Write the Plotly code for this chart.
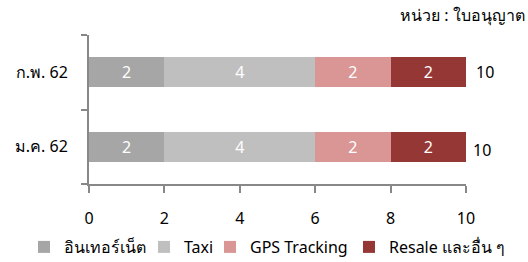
import plotly.graph_objects as go

months = ["ม.ค. 62", "ก.พ. 62"]
series_names = ["อินเทอร์เน็ต", "Taxi", "GPS Tracking", "Resale และอื่น ๆ"]
internet = [2, 2]
taxi = [4, 4]
gps = [2, 2]
resale = [2, 2]
colors = ["#A6A6A6", "#BFBFBF", "#D99694", "#953735"]
x_ticks = [0, 2, 4, 6, 8, 10]
unit_label = "หน่วย : ใบอนุญาต"

FONT = "Tahoma, 'Noto Sans', sans-serif"
W, H = 528, 262

# legend placement (left edge of each legend box, px from left)
legend_left_px = [24, 144, 210, 349]
legend_ids = ["legend", "legend2", "legend3", "legend4"]

fig = go.Figure()
for name, vals, col, lid in zip(series_names, [internet, taxi, gps, resale], colors, legend_ids):
    fig.add_trace(go.Bar(
        y=months, x=vals, name=name, orientation="h",
        marker=dict(color=col, line=dict(width=0)),
        width=0.404,
        text=[str(v) for v in vals], textposition="inside", textangle=0,
        insidetextanchor="middle",
        textfont=dict(color="white", size=16, family=FONT),
        hoverinfo="skip", legend=lid,
    ))

totals = [a + b + c + d for a, b, c, d in zip(internet, taxi, gps, resale)]
xshifts = [5, 8]
yshifts = [-3, 0]
for m, t, xs, ys in zip(months, totals, xshifts, yshifts):
    fig.add_annotation(x=t, y=m, text=str(t), showarrow=False, xanchor="left",
                       xshift=xs, yshift=ys, font=dict(size=16, color="#000000", family=FONT))

ml, mr, mt, mb = 89, 62, 35, 78
pw = W - ml - mr
fig.add_annotation(xref="paper", yref="paper", x=(W - 1 - ml) / pw, y=1.0, yshift=20,
                   text=unit_label, showarrow=False, xanchor="right", yanchor="middle",
                   font=dict(size=16, color="#000000", family=FONT))

legend_common = dict(orientation="h", xref="container", xanchor="left",
                     yref="container", y=1 - 247 / H, yanchor="middle",
                     bgcolor="rgba(0,0,0,0)", borderwidth=0,
                     font=dict(size=16, family=FONT, color="#000000"),
                     itemwidth=30)
legends = {}
for lid, lx in zip(legend_ids, legend_left_px):
    legends[lid] = dict(legend_common, x=lx / W)

fig.update_layout(
    barmode="stack",
    width=W, height=H,
    margin=dict(l=ml, r=mr, t=mt, b=mb, autoexpand=False),
    plot_bgcolor="white", paper_bgcolor="white",
    font=dict(family=FONT, size=16, color="#000000"),
    showlegend=True,
    xaxis=dict(range=[0, 10], tickvals=x_ticks, showgrid=False, zeroline=False,
               showline=True, linecolor="#888888", linewidth=2,
               ticks="outside", ticklen=7, tickcolor="#888888", tickwidth=2,
               ticklabelstandoff=12, automargin=False,
               tickfont=dict(size=16, family=FONT)),
    yaxis=dict(showgrid=False, zeroline=False, showline=True, linecolor="#888888",
               linewidth=2, ticks="outside", ticklen=6, tickcolor="#888888", tickwidth=2,
               tickson="boundaries", ticklabelstandoff=16, automargin=False,
               tickfont=dict(size=16, family=FONT)),
    **legends,
)

fig.write_html("out.html", config={"displayModeBar": False},
               post_script="document.body.style.margin='0';")
